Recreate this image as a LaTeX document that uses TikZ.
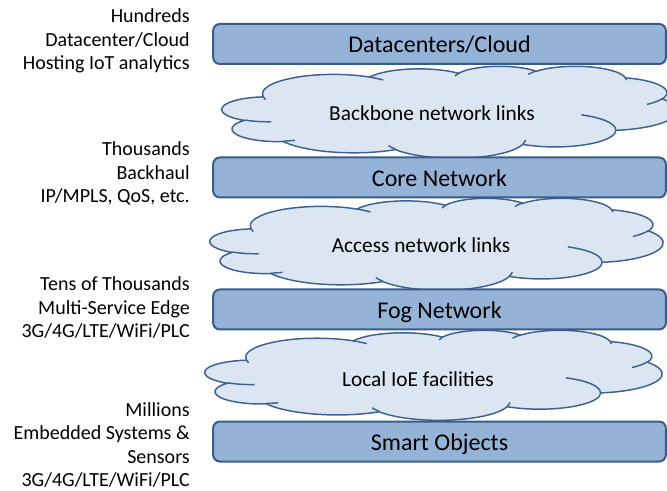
\documentclass[tikz,border=0pt]{standalone}
\usepackage{fontspec}
\setmainfont{Carlito}

\definecolor{barfill}{RGB}{149,179,215}
\definecolor{barline}{RGB}{56,93,138}
\definecolor{cloudfill}{RGB}{220,230,242}
\definecolor{cloudline}{RGB}{61,97,146}

% one arc of the cloud outline: x radius, y radius, start and sweep angle
\tikzset{cloudarc/.style n args={4}{insert path={arc[x radius=#1, y radius=#2,
	start angle={atan2(#1*sin(#3),#2*cos(#3))},
	delta angle={mod(atan2(#1*sin(#3+#4),#2*cos(#3+#4))-atan2(#1*sin(#3),#2*cos(#3))+720,360)}]}}}

% cloud outline in a box: left, top, width, height
\newcommand{\cloudbox}[4]{%
	\begin{scope}[shift={(#1,#2)}, x={(#3*0.75pt/432,0pt)}, y={(0pt,-#4*0.75pt/432)}]
		\filldraw[cloudbody] (39,143.7)
			[cloudarc={67.53}{91.90}{-190.49}{123.78}]
			[cloudarc={53.33}{72.67}{-144.10}{89.95}]
			[cloudarc={43.65}{59.45}{-145.81}{99.72}]
			[cloudarc={48.57}{65.95}{-130.99}{117.24}]
			[cloudarc={53.33}{72.73}{-78.71}{109.03}]
			[cloudarc={67.75}{92.20}{-46.27}{130.27}]
			[cloudarc={57.85}{78.67}{0.63}{114.03}]
			[cloudarc={67.52}{92.15}{22.45}{115.17}]
			[cloudarc={77.20}{105.43}{66.24}{75.71}]
			[cloudarc={43.60}{59.18}{-274.94}{146.74}]
			[cloudarc={43.45}{59.45}{-246.83}{152.52}] -- cycle;
		\draw[cloudbody, fill=none]
			(46.93,261.77) [cloudarc={43.45}{59.45}{86.74}{26.43}]
			(69.28,348.99) [cloudarc={43.60}{59.18}{73.61}{11.45}]
			(164.78,390.90) [cloudarc={67.52}{92.15}{137.62}{14.08}]
			(288.27,347.51) [cloudarc={67.52}{92.15}{6.45}{16.00}]
			(341.29,229.54) [cloudarc={57.85}{78.67}{-70.29}{70.92}]
			(417.98,153.54) [cloudarc={53.33}{72.73}{30.32}{27.75}]
			(383.24,54.26) [cloudarc={48.57}{65.95}{-13.74}{14.86}]
			(290.78,39.52) [cloudarc={48.57}{65.95}{-149.18}{18.20}]
			(221.41,47.20) [cloudarc={43.65}{59.45}{-163.49}{17.70}]
			(140.00,51.92) [cloudarc={67.53}{91.90}{-66.71}{12.32}]
			(41.27,157.89) [cloudarc={67.53}{91.90}{157.65}{11.86}];
	\end{scope}}

\begin{document}
\begin{tikzpicture}[x=0.75pt, y=-0.75pt]
	\tikzset{layer/.style={draw=barline, fill=barfill, line width=1.5pt, rounded corners=5pt,
		minimum width=339.5pt, minimum height=30pt, inner sep=0pt,
		font=\fontsize{18}{21}\selectfont, text height=13pt, text depth=0pt}}
	\tikzset{cloudbody/.style={draw=cloudline, fill=cloudfill, line width=1.1pt}}
	\tikzset{cloudtext/.style={font=\fontsize{16}{19}\selectfont, inner sep=0pt}}
	\tikzset{side/.style={anchor=east, align=right, inner sep=0pt, font=\fontsize{15}{17.6}\selectfont}}

	\useasboundingbox (0,0) rectangle (667,491);

	% clouds first, the layers lie over them
	\cloudbox{222}{66}{455}{92}
	\cloudbox{210}{198}{453}{92}
	\cloudbox{205}{330}{457}{90}
	\node[cloudtext] (backbone) at (432,113) {Backbone network links};
	\node[cloudtext] (access) at (421,245) {Access network links};
	\node[cloudtext] (local) at (418,379) {Local IoE facilities};

	\node[layer] (dc) at (439.5,44) {Datacenters/Cloud};
	\node[layer] (core) at (439.5,177.5) {Core Network};
	\node[layer] (fog) at (439.5,309.5) {Fog Network};
	\node[layer] (smart) at (439.5,441.5) {Smart Objects};

	\node[side] (dcinfo) at (190,41) {Hundreds\\Datacenter/Cloud\\Hosting IoT analytics};
	\node[side] (coreinfo) at (190,173.5) {Thousands\\Backhaul\\IP/MPLS, QoS, etc.};
	\node[side] (foginfo) at (190,307.5) {Tens of Thousands\\Multi-Service Edge\\3G/4G/LTE/WiFi/PLC};
	\node[side] (smartinfo) at (190,445) {Millions\\Embedded Systems \&\hspace*{0.3em}\\Sensors\\3G/4G/LTE/WiFi/PLC};
\end{tikzpicture}
\end{document}
